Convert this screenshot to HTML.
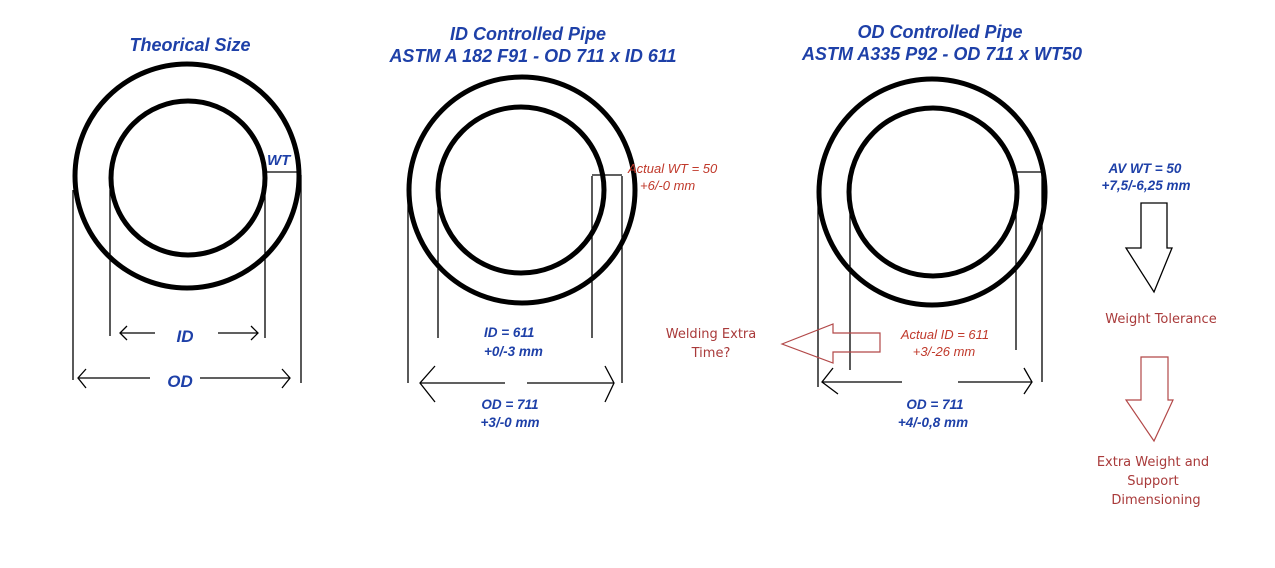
<!DOCTYPE html>
<html><head><meta charset="utf-8"><style>
body{margin:0;background:#fff;width:1275px;height:568px;overflow:hidden}
svg{display:block}
.t{font-family:"Liberation Sans",Arial,sans-serif;font-style:italic;font-weight:bold;fill:#1e40a8}
.r{font-family:"Liberation Sans",Arial,sans-serif;font-style:italic;fill:#c0392b}
.c{font-family:"DejaVu Sans","Liberation Sans",sans-serif;fill:#a93a3a}
</style></head><body>
<svg width="1275" height="568" viewBox="0 0 1275 568">
<g fill="none" stroke="#000" stroke-width="5">
<circle cx="187" cy="176" r="112"/><circle cx="188" cy="178" r="77"/>
<circle cx="522" cy="190" r="113"/><circle cx="521" cy="190" r="83"/>
<circle cx="932" cy="192" r="113"/><circle cx="933" cy="192" r="84"/>
</g>
<g stroke="#000" stroke-width="1.3" fill="none">
<line x1="73" y1="190" x2="73" y2="380"/><line x1="110" y1="190" x2="110" y2="336"/>
<line x1="265" y1="175" x2="265" y2="338"/><line x1="301" y1="175" x2="301" y2="383"/>
<line x1="265" y1="172" x2="301" y2="172"/>
<line x1="120" y1="333" x2="155" y2="333"/><line x1="218" y1="333" x2="258" y2="333"/>
<polyline points="127,326 120,333 127,340"/><polyline points="251,326 258,333 251,340"/>
<line x1="78" y1="378" x2="150" y2="378"/><line x1="200" y1="378" x2="290" y2="378"/>
<polyline points="86,369 78,378 86,388"/><polyline points="282,369 290,378 282,388"/>
<line x1="408" y1="200" x2="408" y2="383"/><line x1="438" y1="200" x2="438" y2="338"/>
<line x1="592" y1="176" x2="592" y2="338"/><line x1="622" y1="176" x2="622" y2="383"/>
<line x1="592" y1="175" x2="622" y2="175"/>
<line x1="420" y1="383" x2="505" y2="383"/><line x1="527" y1="383" x2="614" y2="383"/>
<polyline points="435,366 420,383 435,402"/><polyline points="605,366 614,383 605,402"/>
<line x1="818" y1="180" x2="818" y2="387"/><line x1="850" y1="200" x2="850" y2="370"/>
<line x1="1016" y1="175" x2="1016" y2="350"/><line x1="1042" y1="175" x2="1042" y2="382"/>
<line x1="1016" y1="172" x2="1042" y2="172"/>
<line x1="822" y1="382" x2="902" y2="382"/><line x1="958" y1="382" x2="1032" y2="382"/>
<polyline points="833,368 822,382 838,394"/><polyline points="1024,368 1032,382 1024,394"/>
<polygon points="1141,203 1167,203 1167,248 1172,248 1154,292 1126,248 1141,248"/>
</g>
<g stroke="#b24848" stroke-width="1.2" fill="none">
<polygon points="782,344 833,324 833,333 880,333 880,352 833,352 833,363"/>
<polygon points="1141,357 1168,357 1168,400 1173,400 1154,441 1126,400 1141,400"/>
</g>
<text class="t" x="190" y="51" font-size="18" text-anchor="middle">Theorical Size</text>
<text class="t" x="528" y="40" font-size="18" text-anchor="middle">ID Controlled Pipe</text>
<text class="t" x="533" y="62" font-size="18" text-anchor="middle">ASTM A 182 F91 - OD 711 x ID 611</text>
<text class="t" x="940" y="38" font-size="18" text-anchor="middle">OD Controlled Pipe</text>
<text class="t" x="942" y="60" font-size="18" text-anchor="middle">ASTM A335 P92 - OD 711 x WT50</text>
<text class="t" x="267" y="165" font-size="15">WT</text>
<text class="t" x="185" y="342" font-size="17" text-anchor="middle">ID</text>
<text class="t" x="180" y="387" font-size="17" text-anchor="middle">OD</text>
<text class="t" x="484" y="337" font-size="13.5">ID = 611</text>
<text class="t" x="484" y="356" font-size="13.5">+0/-3 mm</text>
<text class="t" x="510" y="409" font-size="13.5" text-anchor="middle">OD = 711</text>
<text class="t" x="510" y="427" font-size="13.5" text-anchor="middle">+3/-0 mm</text>
<text class="t" x="935" y="409" font-size="13.5" text-anchor="middle">OD = 711</text>
<text class="t" x="933" y="427" font-size="13.5" text-anchor="middle">+4/-0,8 mm</text>
<text class="t" x="1145" y="173" font-size="13.5" text-anchor="middle">AV WT = 50</text>
<text class="t" x="1146" y="190" font-size="13.5" text-anchor="middle">+7,5/-6,25 mm</text>
<text class="r" x="628" y="173" font-size="13">Actual WT = 50</text>
<text class="r" x="640" y="190" font-size="13">+6/-0 mm</text>
<text class="r" x="945" y="339" font-size="13" text-anchor="middle">Actual ID = 611</text>
<text class="r" x="944" y="356" font-size="13" text-anchor="middle">+3/-26 mm</text>
<text class="c" x="711" y="338" font-size="13" text-anchor="middle">Welding Extra</text>
<text class="c" x="711" y="357" font-size="13" text-anchor="middle">Time?</text>
<text class="c" x="1161" y="323" font-size="13" text-anchor="middle">Weight Tolerance</text>
<text class="c" x="1153" y="466" font-size="13" text-anchor="middle">Extra Weight and</text>
<text class="c" x="1153" y="485" font-size="13" text-anchor="middle">Support</text>
<text class="c" x="1156" y="504" font-size="13" text-anchor="middle">Dimensioning</text>
</svg>
</body></html>
